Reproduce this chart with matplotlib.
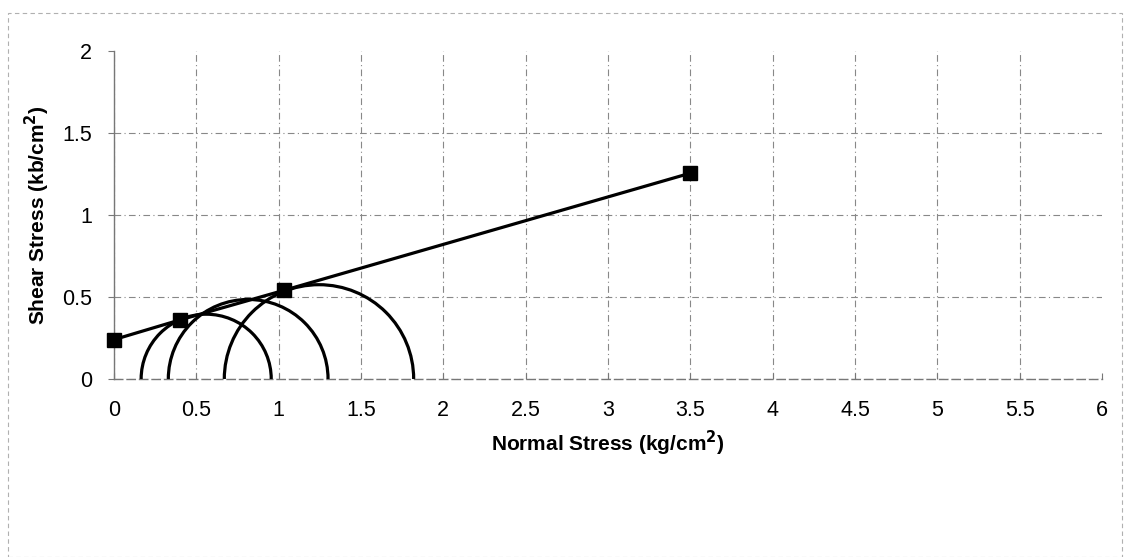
import matplotlib.pyplot as plt
from matplotlib.patches import Arc, Rectangle

# failure envelope points
normal_stress = [0.0, 0.40, 1.03, 3.50]
shear_stress = [0.24, 0.36, 0.54, 1.255]

# Mohr circles: centre and radius (kg/cm2)
circle_centres = [0.56, 0.815, 1.245]
circle_radii = [0.395, 0.485, 0.575]

xticks = [0, 0.5, 1, 1.5, 2, 2.5, 3, 3.5, 4, 4.5, 5, 5.5, 6]
yticks = [0, 0.5, 1, 1.5, 2]

plt.rcParams['font.family'] = ['Liberation Sans', 'DejaVu Sans']

fig = plt.figure(figsize=(11.24, 5.57), dpi=100)
ax = fig.add_axes([0.1014, 0.3196, 0.8790, 0.5888])

# faint dashed frame round the whole chart
fig.patches.append(Rectangle((0.007, 0.0), 0.991, 0.976, transform=fig.transFigure,
                             fill=False, edgecolor='#b0b0b0', linestyle=(0, (4, 3)),
                             linewidth=0.8))

for c, r in zip(circle_centres, circle_radii):
    ax.add_patch(Arc((c, 0), 2 * r, 2 * r, theta1=0, theta2=180,
                     color='black', linewidth=2.3, zorder=3))

ax.plot(normal_stress, shear_stress, color='black', linewidth=2.3,
        marker='s', markersize=9.5, zorder=4, clip_on=False)

ax.set_xlim(0, 6)
ax.set_ylim(0, 2)
ax.set_xticks(xticks)
ax.set_yticks(yticks)
ax.set_xticklabels([f'{t:g}' for t in xticks], fontsize=15.5)
ax.set_yticklabels([f'{t:g}' for t in yticks], fontsize=15.5)
ax.tick_params(axis='x', length=4, pad=15, color='#777777', direction='in')
ax.tick_params(axis='y', length=4, pad=12, color='#777777', direction='out')

ax.grid(True, color='#888888', linestyle=(0, (6, 3, 1, 3)), linewidth=0.8)
ax.xaxis.get_gridlines()[-1].set_visible(False)
ax.yaxis.get_gridlines()[-1].set_visible(False)

for side in ['top', 'right']:
    ax.spines[side].set_visible(False)
ax.spines['left'].set_color('#777777')
ax.spines['left'].set_linewidth(1.0)
ax.spines['bottom'].set_color('#777777')
ax.spines['bottom'].set_linestyle((0, (6, 3)))
ax.spines['bottom'].set_linewidth(1.0)

ax.set_xlabel('Normal Stress (kg/cm$^\\mathbf{2}$)', fontsize=15, fontweight='bold', labelpad=6)
ax.set_ylabel('Shear Stress (kb/cm$^\\mathbf{2}$)', fontsize=15, fontweight='bold', labelpad=7)

fig.savefig('out.png', dpi=100)
